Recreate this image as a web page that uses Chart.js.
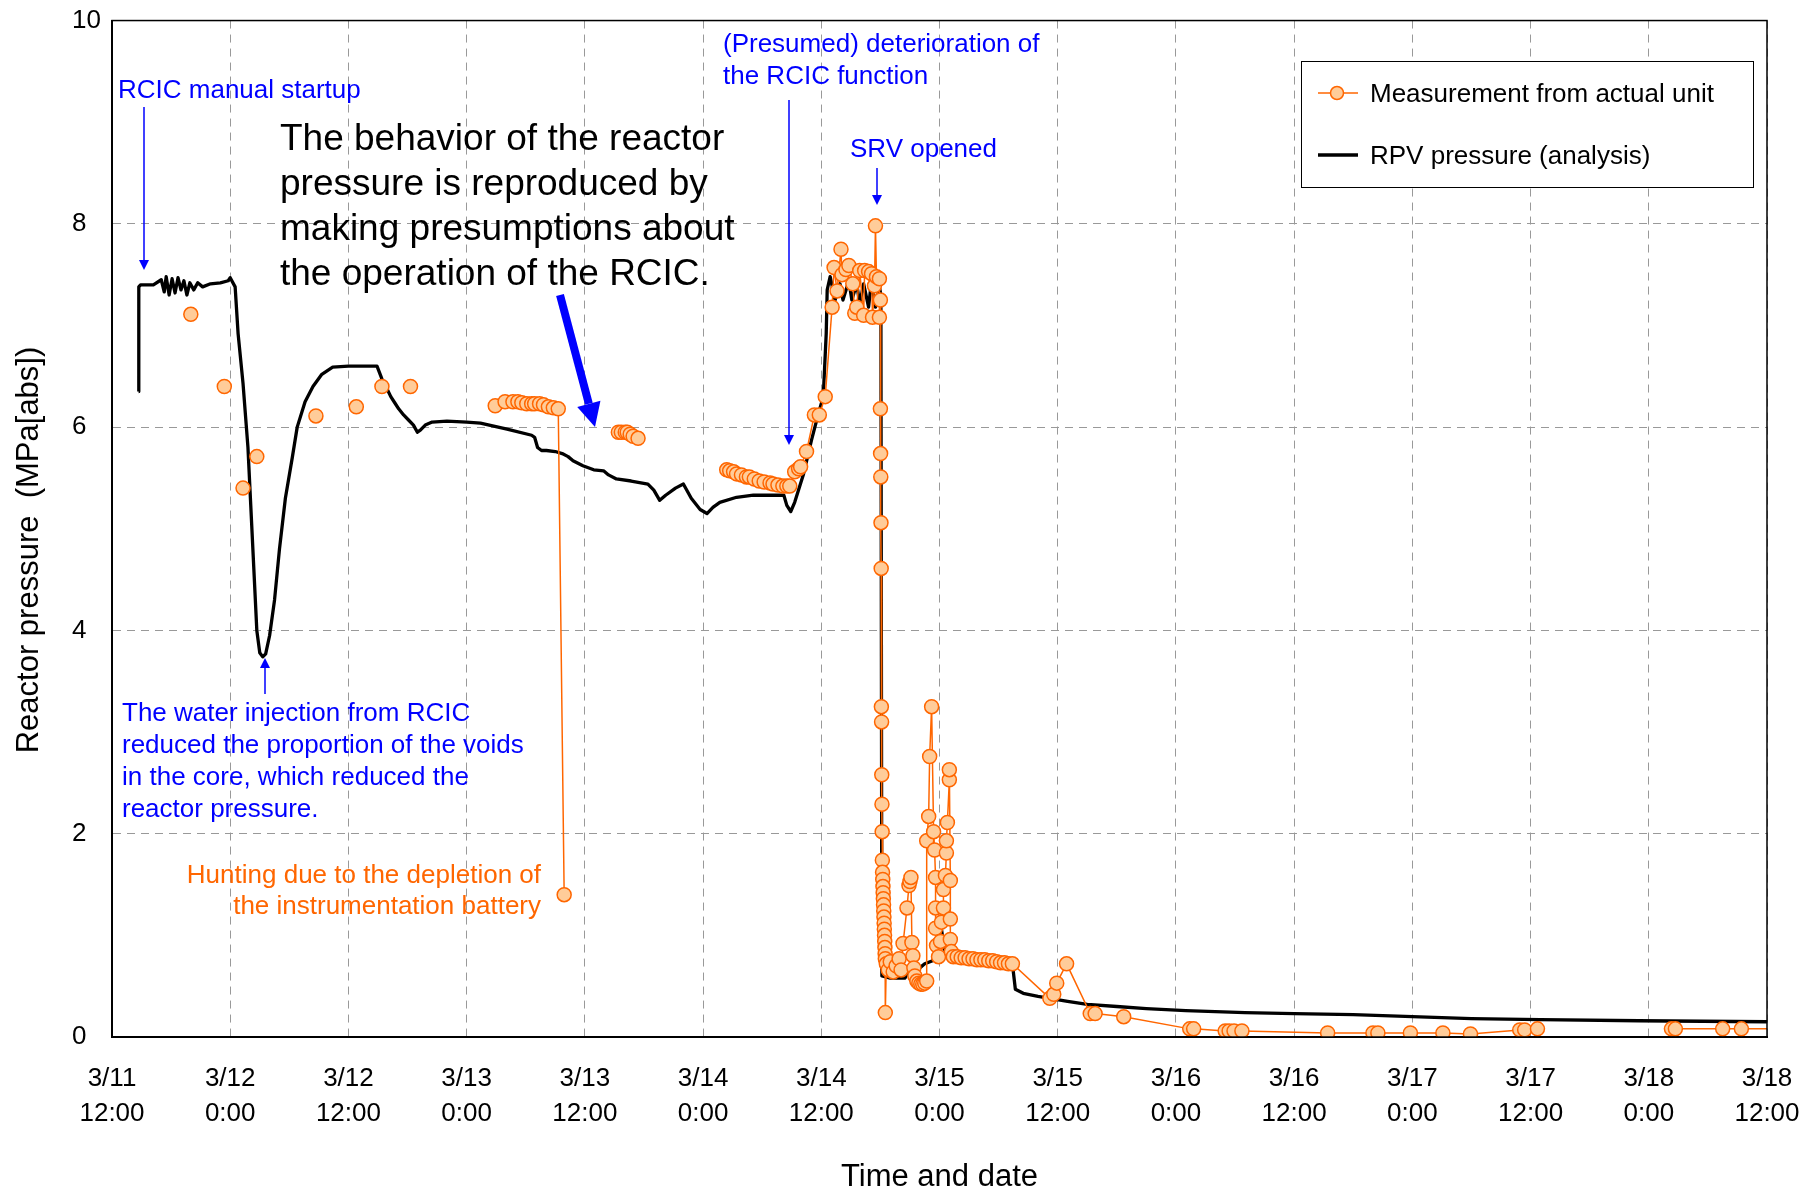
<!DOCTYPE html>
<html>
<head>
<meta charset="utf-8">
<title>Reactor pressure</title>
<script src="https://cdn.jsdelivr.net/npm/chart.js@4.4.1/dist/chart.umd.min.js"></script>
<style>
  html, body { margin: 0; padding: 0; background: #fff; }
  #wrap { width: 1816px; height: 1189px; }
</style>
</head>
<body>
<div id="wrap"><canvas id="chart" width="1816" height="1189"></canvas></div>
<script>
// x values are hours counted from 3/11 12:00

const dateLabels = ['3/11', '3/12', '3/12', '3/13', '3/13', '3/14', '3/14', '3/15',
                    '3/15', '3/16', '3/16', '3/17', '3/17', '3/18', '3/18'];
const timeLabels = ['12:00', '0:00', '12:00', '0:00', '12:00', '0:00', '12:00', '0:00',
                    '12:00', '0:00', '12:00', '0:00', '12:00', '0:00', '12:00'];

// RPV pressure (analysis)
const rpvHours = [
  2.7, 2.72, 2.9, 3.5, 4.2, 5.0, 5.3, 5.5, 5.8, 6.1, 6.4, 6.7, 7.0, 7.3, 7.6, 7.9, 8.3, 8.7, 9.2,
  10.0, 11.0, 11.8, 12.0, 12.5, 12.8, 13.3, 13.8, 14.1, 14.4, 14.7, 15.0, 15.3, 15.6, 16.0, 16.5,
  17.0, 17.6, 18.3, 18.8, 19.6, 20.4, 21.3, 22.4, 24.0, 26.9, 27.3, 27.6, 27.9, 28.3, 28.7, 29.1,
  29.6, 30.1, 30.6, 31.0, 31.3, 31.8, 32.5, 34.0, 36.0, 37.4, 40.1, 42.6, 42.9, 43.2, 43.6, 44.1,
  45.0, 45.7, 46.3, 46.8, 47.8, 48.9, 49.9, 50.4, 51.2, 52.7, 54.4, 55.0, 55.6, 56.2, 57.2, 58.0,
  58.8, 59.7, 60.4, 61.0, 61.7, 63.4, 65.1, 68.2, 68.5, 68.9, 69.3, 70.2, 71.0, 71.7, 72.2, 72.5,
  72.6, 72.9, 73.4, 73.9, 74.2, 74.8, 75.1, 75.6, 75.9, 76.3, 76.8, 77.1, 77.5, 77.9, 78.05, 78.15,
  79.0, 80.5, 80.8, 82.0, 82.5, 83.3, 83.8, 84.2, 84.5, 85.0, 86.0, 88.0, 90.0, 91.4, 91.7, 92.5,
  94.0, 95.2, 97.0, 99.0, 102.0, 105.0, 109.0, 115.0, 120.0, 126.0, 132.0, 138.0, 145.0, 155.0, 168.0
];
const rpvMPa = [
  6.35, 7.38, 7.40, 7.40, 7.40, 7.45, 7.33, 7.48, 7.30, 7.46, 7.32, 7.47, 7.35, 7.44, 7.30, 7.42, 7.35, 7.42, 7.38,
  7.41, 7.42, 7.44, 7.47, 7.38, 6.92, 6.43, 5.80, 5.20, 4.60, 4.00, 3.78, 3.74, 3.77, 3.95, 4.30,
  4.80, 5.30, 5.70, 6.00, 6.25, 6.40, 6.52, 6.59, 6.60, 6.60, 6.50, 6.42, 6.38, 6.30, 6.24, 6.18,
  6.12, 6.07, 6.02, 5.95, 5.97, 6.02, 6.05, 6.06, 6.05, 6.04, 5.98, 5.92, 5.90, 5.80, 5.77, 5.77,
  5.76, 5.74, 5.71, 5.67, 5.62, 5.58, 5.57, 5.53, 5.49, 5.47, 5.44, 5.38, 5.28, 5.33, 5.40, 5.44,
  5.30, 5.19, 5.15, 5.21, 5.26, 5.31, 5.33, 5.33, 5.23, 5.17, 5.26, 5.54, 5.87, 6.13, 6.30, 6.92,
  7.35, 7.48, 7.25, 7.41, 7.25, 7.44, 7.25, 7.41, 7.21, 7.41, 7.18, 7.44, 7.18, 7.38, 7.30, 0.60,
  0.58, 0.58, 0.64, 0.68, 0.72, 0.75, 0.90, 1.06, 0.86, 0.80, 0.79, 0.77, 0.74, 0.72, 0.47, 0.43,
  0.40, 0.38, 0.35, 0.32, 0.30, 0.28, 0.26, 0.24, 0.23, 0.22, 0.20, 0.18, 0.17, 0.16, 0.15
];

// Measurement from actual unit (null = no line across the gap)
const measHours = [
  8.0, 9.5, 11.4, 12.5, 13.3, 14.0, 14.7, 17.0, 20.7, 22.0, 24.8, 26.0, 27.4, 29.0, 30.3, 35.0,
  38.9, 39.9, 40.7, 41.2, 41.6, 42.1, 42.6, 42.9, 43.4, 43.8, 44.3, 44.8, 45.3, 45.9, 48.0,
  51.4, 51.7, 52.1, 52.3, 52.6, 52.9, 53.4, 58.0,
  62.4, 62.7, 63.1, 63.4, 63.9, 64.4, 64.7, 65.2, 65.7, 66.2, 66.8, 67.1, 67.6, 68.1, 68.5, 68.8,
  69.3, 69.7, 69.9, 70.5, 71.3, 71.8, 72.4, 73.1, 73.3, 73.6, 74.0, 74.1, 74.5, 74.8, 75.2, 75.4,
  75.6, 75.9, 76.3, 76.4, 76.8, 77.1, 77.2, 77.4, 77.5, 77.6, 77.9, 77.9, 78.0, 78.0,
  78.02, 78.04, 78.06, 78.08, 78.1, 78.12, 78.14, 78.16, 78.18, 78.2, 78.22, 78.24, 78.26, 78.28,
  78.3, 78.32, 78.34, 78.36, 78.38, 78.4, 78.42, 78.44, 78.46, 78.48, 78.5, 78.5, 78.6, 78.8,
  79.0, 79.3, 79.6, 79.9, 80.1, 80.3, 80.7, 80.9, 81.0, 81.1, 81.2, 81.3, 81.4, 81.5, 81.7, 81.9,
  82.1, 82.3, 82.5, 82.7, 82.7, 82.9, 83.0, 83.2, 83.4, 83.5, 83.6, 83.6, 83.6, 83.7, 83.9, 84.1,
  84.2, 84.4, 84.4, 84.6, 84.7, 84.7, 84.8, 85.0, 85.0, 85.1, 85.1, 85.1, 85.2, 85.4, 85.8, 86.2,
  86.6, 87.0, 87.4, 87.8, 88.2, 88.6, 89.0, 89.4, 89.8, 90.2, 90.6, 91.0, 91.4,
  95.2, 95.6, 95.9, 96.9, 99.3, 99.8, 102.7, 109.4, 109.8, 113.0, 113.4, 113.9, 114.7,
  123.4, 128.0, 128.5, 131.8, 135.1, 137.9, 142.9, 143.4, 144.7, 150.0,
  158.3, 158.7, 163.5, 165.4, 170.0
];
const measMPa = [
  7.11, null, 6.40, null, 5.40, null, 5.71, null, 6.11, null, 6.20, null, 6.40, null, 6.40, null,
  6.21, 6.25, 6.25, 6.25, 6.24, 6.23, 6.23, 6.23, 6.23, 6.22, 6.20, 6.19, 6.18, 1.40, null,
  5.95, 5.95, 5.95, 5.95, 5.93, 5.91, 5.89, null,
  5.58, 5.57, 5.56, 5.54, 5.53, 5.51, 5.51, 5.49, 5.47, 5.46, 5.45, 5.44, 5.43, 5.42, 5.42, 5.42,
  5.56, 5.59, 5.61, 5.76, 6.12, 6.12, 6.30, 7.18, 7.57, 7.34, 7.75, 7.50, 7.55, 7.59, 7.41, 7.12,
  7.18, 7.54, 7.10, 7.54, 7.53, 7.51, 7.08, 7.39, 7.98, 7.48, 7.46, 7.08, 7.25, 6.18,
  5.74, 5.51, 5.06, 4.61, 3.25, 3.10, 2.58, 2.29, 2.02, 1.74, 1.62, 1.55, 1.48, 1.42,
  1.36, 1.30, 1.24, 1.18, 1.12, 1.06, 1.00, 0.94, 0.88, 0.82, 0.77, 0.24, 0.72, 0.66,
  0.74, 0.64, 0.70, 0.77, 0.66, 0.92, 1.27, 1.49, 1.53, 1.57, 0.93, 0.80, 0.68, 0.60, 0.55, 0.53,
  0.52, 0.52, 0.53, 0.55, 1.93, 2.17, 2.76, 3.25, 2.02, 1.84, 1.57, 1.27, 1.07, 0.90, 0.79, 0.94,
  1.13, 1.27, 1.45, 1.59, 1.81, 1.93, 2.11, 2.53, 2.63, 1.54, 1.16, 0.96, 0.84, 0.79, 0.79, 0.78,
  0.78, 0.77, 0.77, 0.76, 0.76, 0.76, 0.75, 0.75, 0.74, 0.73, 0.73, 0.72, 0.72,
  0.38, 0.42, 0.53, 0.72, 0.23, 0.23, 0.20, 0.08, 0.08, 0.06, 0.06, 0.06, 0.06,
  0.04, 0.04, 0.04, 0.04, 0.04, 0.03, 0.07, 0.07, 0.08, null,
  0.08, 0.08, 0.08, 0.08, 0.08
];

const ORANGE = '#FF6600';
const PEACH = '#FFCC99';
const BLUE = '#0000FF';
const FONT = 'Liberation Sans, Arial, sans-serif';

const measPoints = measHours.map((h, i) => ({ x: h, y: measMPa[i] }));
const rpvPoints = rpvHours.map((h, i) => ({ x: h, y: rpvMPa[i] }));

// draws a straight arrow ending at (x2, y2)
function arrow(c, x1, y1, x2, y2, w, headLen, headW, color) {
    const ang = Math.atan2(y2 - y1, x2 - x1);
    const bx = x2 - headLen * Math.cos(ang);
    const by = y2 - headLen * Math.sin(ang);
    c.strokeStyle = color;
    c.fillStyle = color;
    c.lineWidth = w;
    c.beginPath();
    c.moveTo(x1, y1);
    c.lineTo(bx, by);
    c.stroke();
    c.beginPath();
    c.moveTo(x2, y2);
    c.lineTo(bx + headW / 2 * Math.sin(ang), by - headW / 2 * Math.cos(ang));
    c.lineTo(bx - headW / 2 * Math.sin(ang), by + headW / 2 * Math.cos(ang));
    c.closePath();
    c.fill();
}

function lines(c, textLines, x, y, gap, size, color, align) {
    c.font = size + 'px ' + FONT;
    c.fillStyle = color;
    c.textAlign = align || 'left';
    c.textBaseline = 'middle';
    textLines.forEach((t, i) => c.fillText(t, x, y + i * gap));
}

// frame, axis titles, legend and the notes on the plot
const notesPlugin = {
    id: 'notes',
    afterDraw(chart) {
        const c = chart.ctx;
        const a = chart.chartArea;
        c.save();

        c.strokeStyle = '#000';
        c.lineWidth = 1.5;
        c.strokeRect(a.left, a.top, a.right - a.left, a.bottom - a.top);

        // axis titles
        lines(c, ['Time and date'], (a.left + a.right) / 2, 1177, 0, 31, '#000', 'center');
        c.save();
        c.translate(29, 550);
        c.rotate(-Math.PI / 2);
        lines(c, ['Reactor pressure  (MPa[abs])'], 0, 0, 0, 31, '#000', 'center');
        c.restore();

        // legend
        const ds = chart.data.datasets;
        c.fillStyle = '#fff';
        c.fillRect(1301, 61, 452, 126);
        c.strokeStyle = '#000';
        c.lineWidth = 1;
        c.strokeRect(1301.5, 61.5, 452, 126);
        c.strokeStyle = ds[0].borderColor;
        c.lineWidth = 1.5;
        c.beginPath(); c.moveTo(1318, 93); c.lineTo(1358, 93); c.stroke();
        c.beginPath(); c.arc(1337, 93, 6.5, 0, Math.PI * 2);
        c.fillStyle = ds[0].pointBackgroundColor; c.fill(); c.stroke();
        c.strokeStyle = ds[1].borderColor;
        c.lineWidth = 3.5;
        c.beginPath(); c.moveTo(1318, 155); c.lineTo(1358, 155); c.stroke();
        lines(c, [ds[0].label, ds[1].label], 1370, 94.5, 62, 26, '#000');

        // notes
        lines(c, ['RCIC manual startup'], 118, 90.5, 0, 26, BLUE);
        arrow(c, 144, 107, 144, 270, 1.5, 10, 10, BLUE);

        lines(c, ['The behavior of the reactor', 'pressure is reproduced by',
                  'making presumptions about', 'the operation of the RCIC.'],
              280, 139.5, 45, 37, '#000');
        arrow(c, 560, 295, 595, 427, 8, 24, 24, BLUE);

        lines(c, ['(Presumed) deterioration of', 'the RCIC function'], 723, 45, 32, 26, BLUE);
        arrow(c, 789, 100, 789, 445, 1.5, 10, 10, BLUE);

        lines(c, ['SRV opened'], 850, 150, 0, 26, BLUE);
        arrow(c, 877, 168, 877, 205, 1.5, 10, 10, BLUE);

        lines(c, ['The water injection from RCIC', 'reduced the proportion of the voids',
                  'in the core, which reduced the', 'reactor pressure.'],
              122, 714, 32, 26, BLUE);
        arrow(c, 265, 694, 265, 658, 1.5, 10, 10, BLUE);

        lines(c, ['Hunting due to the depletion of', 'the instrumentation battery'],
              541, 876, 31, 26, ORANGE, 'right');

        c.restore();
    }
};

const tickFont = { family: FONT, size: 26, lineHeight: 1.35 };

new Chart(document.getElementById('chart').getContext('2d'), {
    type: 'line',
    data: {
        datasets: [{
            label: 'Measurement from actual unit',
            data: measPoints,
            borderColor: ORANGE,
            borderWidth: 1.5,
            pointRadius: 7,
            pointBackgroundColor: PEACH,
            pointBorderColor: ORANGE,
            pointBorderWidth: 1.5,
            spanGaps: false,
            tension: 0
        }, {
            label: 'RPV pressure (analysis)',
            data: rpvPoints,
            borderColor: '#000',
            borderWidth: 3.3,
            borderJoinStyle: 'round',
            pointRadius: 0,
            tension: 0
        }]
    },
    options: {
        responsive: false,
        animation: false,
        events: [],
        layout: { padding: { left: 72, top: 20, right: 49, bottom: 0 } },
        plugins: {
            legend: { display: false },
            tooltip: { enabled: false }
        },
        scales: {
            x: {
                type: 'linear',
                min: 0,
                max: 168,
                ticks: {
                    stepSize: 12,
                    autoSkip: false,
                    maxRotation: 0,
                    padding: 24,
                    color: '#000',
                    font: tickFont,
                    callback: (v, i) => [dateLabels[i], timeLabels[i]]
                },
                grid: { color: '#999', lineWidth: 1, drawTicks: false },
                border: { color: '#000', width: 2, dash: [8, 6] },
                afterFit: s => {
                    s.height = 152;
                    s.paddingLeft = 0;
                    s.paddingRight = 0;
                }
            },
            y: {
                min: 0,
                max: 10,
                ticks: {
                    stepSize: 2,
                    crossAlign: 'far',
                    color: '#000',
                    font: tickFont
                },
                grid: { color: '#999', lineWidth: 1, drawTicks: false },
                border: { color: '#000', width: 2, dash: [8, 6] },
                afterFit: s => { s.width = 40; }
            }
        }
    },
    plugins: [notesPlugin]
});
</script>
</body>
</html>
